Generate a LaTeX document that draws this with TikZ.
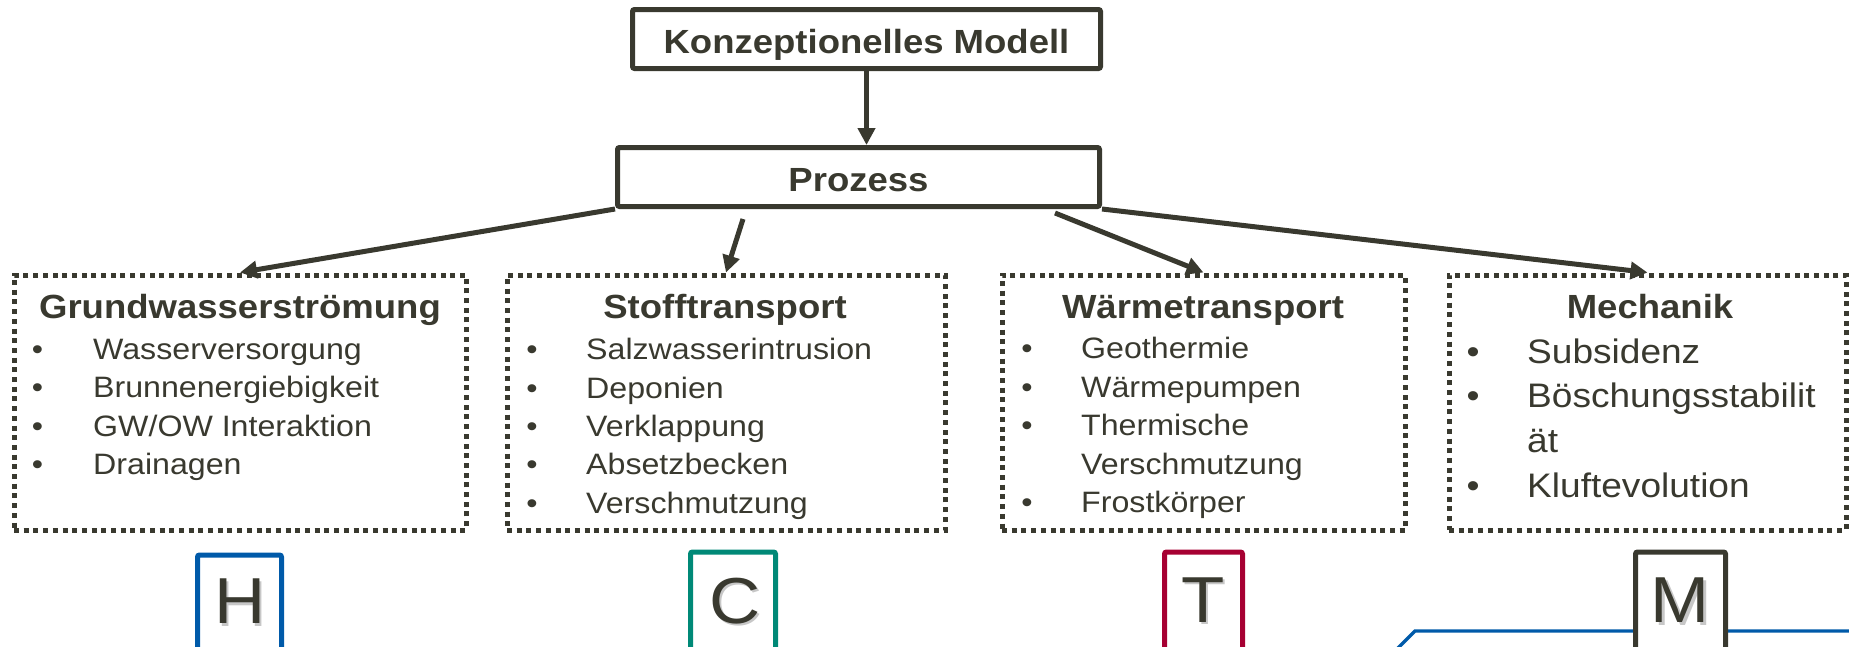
\documentclass[tikz,border=0pt]{standalone}
\usepackage{fontspec}
\setmainfont{Liberation Sans}[FakeStretch=1.09]
\usetikzlibrary{arrows.meta}
\definecolor{ink}{RGB}{57,57,47}
\definecolor{hblue}{RGB}{0,90,169}
\definecolor{cteal}{RGB}{0,137,119}
\definecolor{tred}{RGB}{166,0,50}
\begin{document}
\begin{tikzpicture}[x=1pt,y=-1pt,
  solidbox/.style={draw=ink, line width=5pt, inner sep=0pt, rounded corners=2pt},
  dotbox/.style={draw=ink, line width=5pt, dash pattern=on 5pt off 4.7pt, inner sep=0pt},
  ttl/.style={font=\fontsize{33.5}{40}\selectfont\bfseries, text=ink, inner sep=0pt, anchor=base},
  itm/.style={font=\fontsize{29.5}{38}\selectfont, text=ink, inner sep=0pt, anchor=base west},
  bul/.style={font=\fontsize{29.5}{38}\selectfont, text=ink, inner sep=0pt, anchor=base},
  bigitm/.style={itm, font=\fontsize{34}{44}\selectfont},
  bigbul/.style={bul, font=\fontsize{34}{44}\selectfont},
  arr/.style={draw=ink, line width=5pt, -{Triangle[length=17pt,width=17pt]}},
  lbox/.style={line width=5pt, fill=white, inner sep=0pt, anchor=north, minimum height=140pt, rounded corners=2pt},
  letter/.style={font=\fontsize{65}{70}\selectfont, text=ink, inner sep=0pt, anchor=base},
  lshadow/.style={letter, text=black, opacity=0.22},
]
\useasboundingbox (0,0) rectangle (1849,646);
\clip (0,0) rectangle (1849,646);

% top boxes
\node[solidbox, minimum width=468pt, minimum height=59pt] (konz) at (866.5,39) {};
\node[ttl] (konzT) at (866.5,53) {Konzeptionelles Modell};
\node[solidbox, minimum width=482pt, minimum height=59pt] (proz) at (858.5,177) {};
\node[ttl] (prozT) at (858.5,191) {Prozess};

% dotted boxes
\node[dotbox, minimum width=452pt, minimum height=255pt] (gw) at (240,402.5) {};
\node[dotbox, minimum width=438pt, minimum height=255pt] (st) at (726,402.5) {};
\node[dotbox, minimum width=403pt, minimum height=255pt] (wt) at (1203.5,402.5) {};
\node[dotbox, minimum width=397pt, minimum height=255pt] (me) at (1647.5,402.5) {};

% Grundwasserstroemung
\node[ttl] (gwT) at (240,318.5) {Grundwasserströmung};
\node[bul] (gwb1) at (37.5,359) {•};   \node[itm] (gw1) at (93,359) {Wasserversorgung};
\node[bul] (gwb2) at (37.5,397.5) {•}; \node[itm] (gw2) at (93,397.5) {Brunnenergiebigkeit};
\node[bul] (gwb3) at (37.5,436) {•};   \node[itm] (gw3) at (93,436) {GW/OW Interaktion};
\node[bul] (gwb4) at (37.5,474) {•};   \node[itm] (gw4) at (93,474) {Drainagen};

% Stofftransport
\node[ttl] (stT) at (725,318.5) {Stofftransport};
\node[bul] (stb1) at (532,359) {•};   \node[itm] (st1) at (586,359) {Salzwasserintrusion};
\node[bul] (stb2) at (532,398) {•};   \node[itm] (st2) at (586,398) {Deponien};
\node[bul] (stb3) at (532,436) {•};   \node[itm] (st3) at (586,436) {Verklappung};
\node[bul] (stb4) at (532,474.5) {•}; \node[itm] (st4) at (586,474.5) {Absetzbecken};
\node[bul] (stb5) at (532,513) {•};   \node[itm] (st5) at (586,513) {Verschmutzung};

% Waermetransport
\node[ttl] (wtT) at (1203,318.5) {Wärmetransport};
\node[bul] (wtb1) at (1027,358) {•}; \node[itm] (wt1) at (1081,358) {Geothermie};
\node[bul] (wtb2) at (1027,397) {•}; \node[itm] (wt2) at (1081,397) {Wärmepumpen};
\node[bul] (wtb3) at (1027,435) {•}; \node[itm] (wt3) at (1081,435) {Thermische};
                                      \node[itm] (wt3b) at (1081,474) {Verschmutzung};
\node[bul] (wtb4) at (1027,512) {•}; \node[itm] (wt4) at (1081,512) {Frostkörper};

% Mechanik
\node[ttl] (meT) at (1650,318.5) {Mechanik};
\node[bigbul] (meb1) at (1473,363) {•};   \node[bigitm] (me1) at (1527,363) {Subsidenz};
\node[bigbul] (meb2) at (1473,407.5) {•}; \node[bigitm] (me2) at (1527,407.5) {Böschungsstabilit};
                                          \node[bigitm] (me2b) at (1527,452) {ät};
\node[bigbul] (meb3) at (1473,497) {•};   \node[bigitm] (me3) at (1527,497) {Kluftevolution};

% connectors
\coordinate (sC) at (743,219);
\coordinate (sT) at (1055,213);
\draw[arr] (konz.south) -- (konz.south |- proz.north);
\draw[arr] (proz.south west) -- (gw.north);
\draw[arr] (sC) -- (st.north);
\draw[arr] (sT) -- (wt.north);
\draw[arr] (proz.south east) -- (me.north);

% decorative blue line
\draw[hblue, line width=3.3pt] (1385,661) -- (1415,631) -- (1860,631);

% letter boxes
\node[lbox, draw=hblue, minimum width=84pt] (hbox) at (239.5,552.5) {};
\node[lbox, draw=cteal, minimum width=85pt] (cbox) at (733,549.5) {};
\node[lbox, draw=tred, minimum width=78pt] (tbox) at (1203.5,549.5) {};
\node[lbox, draw=ink, minimum width=90pt] (mbox) at (1680.5,549.5) {};
\node[lshadow] (hsh) at (242.5,626) {H};
\node[lshadow] (csh) at (737.5,625.5) {C};
\node[lshadow] (tsh) at (1205.5,624.5) {T};
\node[lshadow] (msh) at (1682.5,625) {M};
\node[letter] (hlet) at (240,623.5) {H};
\node[letter] (clet) at (735,623) {C};
\node[letter] (tlet) at (1203,622) {T};
\node[letter] (mlet) at (1680,622.5) {M};
\end{tikzpicture}
\end{document}
